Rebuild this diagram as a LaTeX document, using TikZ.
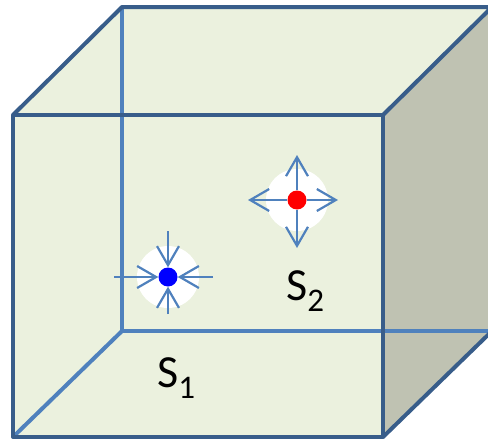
\documentclass[tikz,border=0pt]{standalone}
\usepackage{fontspec}
\setmainfont{Carlito}
\usetikzlibrary{arrows.meta}
\definecolor{facecolor}{RGB}{235,241,222}
\definecolor{sidecolor}{RGB}{191,194,178}
\definecolor{edgedark}{RGB}{56,93,138}
\definecolor{edgelight}{RGB}{79,129,189}
\definecolor{fluxcolor}{RGB}{79,129,189}

\newcommand{\srclabel}[1]{S\raisebox{-11pt}{\fontsize{33}{33}\selectfont #1}}

\begin{document}
\begin{tikzpicture}[x=1pt, y=-1pt,
    frontedge/.style={draw=edgedark, line width=4pt, line join=round},
    backedge/.style={draw=edgelight, line width=4pt},
    halo/.style={circle, fill=white, minimum size=62pt, inner sep=0pt},
    source/.style={circle, minimum size=19pt, inner sep=0pt},
    flux/.style={-{Straight Barb[length=19pt, width=22pt]}, draw=fluxcolor, line width=2.2pt},
    lbl/.style={anchor=base west, inner sep=0pt, font=\fontsize{46}{50}\selectfont}
]
\useasboundingbox (0,0) rectangle (488,442);
\clip (0,0) rectangle (488,442);

\coordinate (fbl) at (13,437);
\coordinate (fbr) at (383,437);
\coordinate (ftr) at (383,115);
\coordinate (ftl) at (13,115);
\coordinate (bbl) at (122,331);
\coordinate (bbr) at (492,331);
\coordinate (btr) at (492,7);
\coordinate (btl) at (122,7);

\fill[facecolor] (ftl) -- (ftr) -- (fbr) -- (fbl) -- cycle;
\fill[facecolor] (ftl) -- (btl) -- (btr) -- (ftr) -- cycle;
\fill[sidecolor] (ftr) -- (btr) -- (bbr) -- (fbr) -- cycle;

\draw[backedge] (btl) -- (bbl) -- (bbr);
\draw[backedge] (fbl) -- (bbl);

\draw[frontedge] (ftl) -- (ftr) -- (fbr) -- (fbl) -- cycle;
\draw[frontedge] (ftl) -- (btl) -- (btr) -- (ftr);
\draw[frontedge] (fbr) -- (bbr);

\node[halo] (halo1) at (168,277) {};
\node[halo] (halo2) at (297,200) {};

\node[source, fill=blue] (s1) at (168,277) {};
\node[source, fill=red] (s2) at (297,200) {};

\coordinate (s1w) at (114,277);
\coordinate (s1e) at (213,277);
\coordinate (s1n) at (168,231);
\coordinate (s1s) at (168,314);
\draw[flux] (s1w) -- (s1);
\draw[flux] (s1e) -- (s1);
\draw[flux] (s1n) -- (s1);
\draw[flux] (s1s) -- (s1);

\coordinate (s2w) at (248,200);
\coordinate (s2e) at (338,200);
\coordinate (s2n) at (297,155);
\coordinate (s2s) at (297,248);
\draw[flux] (s2) -- (s2w);
\draw[flux] (s2) -- (s2e);
\draw[flux] (s2) -- (s2n);
\draw[flux] (s2) -- (s2s);

\node[lbl] (lab1) at (157,387) {\srclabel{1}};
\node[lbl] (lab2) at (286,300) {\srclabel{2}};
\end{tikzpicture}
\end{document}
